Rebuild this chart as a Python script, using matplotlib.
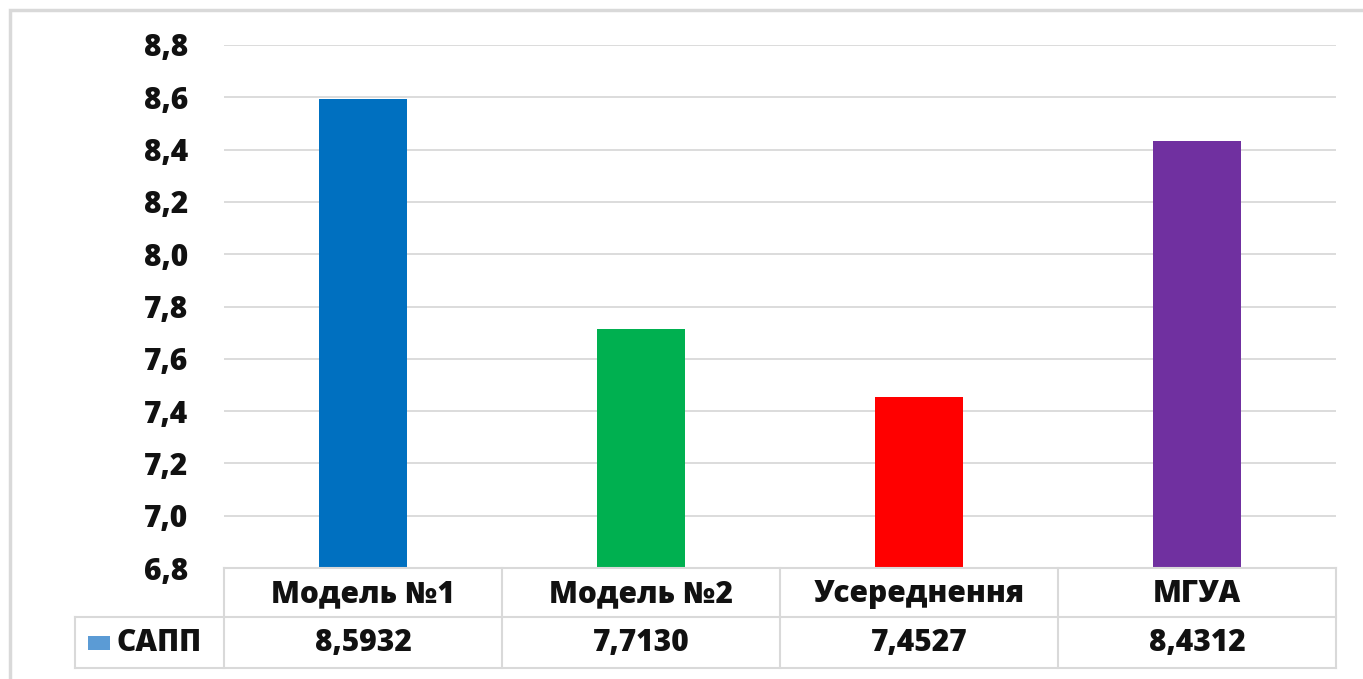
import matplotlib
matplotlib.use("Agg")
import matplotlib.pyplot as plt
from matplotlib.lines import Line2D
from matplotlib.patches import Rectangle
import numpy as np

categories = ["Модель №1", "Модель №2", "Усереднення", "МГУА"]
values = [8.5932, 7.7130, 7.4527, 8.4312]
series_name = "САПП"
bar_colors = ["#0070C0", "#00B050", "#FF0000", "#7030A0"]
yticks = [6.8, 7.0, 7.2, 7.4, 7.6, 7.8, 8.0, 8.2, 8.4, 8.6, 8.8]

W, H = 1363, 679
plt.rcParams['font.family'] = ['Open Sans', 'DejaVu Sans']
fig = plt.figure(figsize=(W / 100, H / 100), dpi=100)
FS = 21.5
FW = 800
TC = '#111111'

def fx(px):
    return px / W

def fy(py):
    return 1 - py / H

x0, x1 = 224, 1336
ytop, ybot = 45, 568
ax = fig.add_axes([fx(x0), fy(ybot), fx(x1) - fx(x0), fy(ytop) - fy(ybot)])
x = np.arange(len(categories))
ax.bar(x, np.array(values) - 6.8, bottom=6.8, width=0.315, color=bar_colors, zorder=3)
ax.set_xlim(-0.5, len(categories) - 0.5)
ax.set_ylim(6.8, 8.8)
ax.set_yticks(yticks)
ax.set_yticklabels([f"{v:.1f}".replace(".", ",") for v in yticks],
                   fontsize=FS, fontweight=FW, color=TC)
ax.tick_params(axis='y', length=0, pad=26)
ax.set_xticks([])
for s in ax.spines.values():
    s.set_visible(False)
ax.yaxis.grid(True, color='#D9D9D9', linewidth=1.3, zorder=0)
ax.set_axisbelow(True)

gc = '#D9D9D9'
lw = 1.5
# outer border
fig.add_artist(Rectangle((fx(10), fy(700)), fx(1400) - fx(10), fy(10) - fy(700),
                         fill=False, edgecolor='#D9D9D9', linewidth=2.5,
                         transform=fig.transFigure))

def hline(y, xa, xb):
    fig.add_artist(Line2D([fx(xa), fx(xb)], [fy(y), fy(y)], color=gc, linewidth=lw,
                          transform=fig.transFigure))

def vline(xp, ya, yb):
    fig.add_artist(Line2D([fx(xp), fx(xp)], [fy(ya), fy(yb)], color=gc, linewidth=lw,
                          transform=fig.transFigure))

hline(568, x0, x1)
hline(617, 75, x1)
hline(668, 75, x1)
vline(75, 617, 668)
ncat = len(categories)
colw = (x1 - x0) / ncat
for i in range(ncat + 1):
    vline(x0 + i * colw, 568, 668)

for i, (c, v) in enumerate(zip(categories, values)):
    cx = x0 + (i + 0.5) * colw
    fig.text(fx(cx), fy(594), c, ha='center', va='center', fontsize=FS,
             fontweight=FW, color=TC)
    fig.text(fx(cx), fy(643), f"{v:.4f}".replace(".", ","), ha='center', va='center',
             fontsize=FS, fontweight=FW, color=TC)

fig.add_artist(Rectangle((fx(88), fy(650)), fx(110) - fx(88), fy(636) - fy(650),
                         facecolor='#5B9BD5', edgecolor='none', transform=fig.transFigure))
fig.text(fx(117), fy(643), series_name, ha='left', va='center', fontsize=FS,
         fontweight=FW, color=TC)

fig.savefig("out.png", dpi=100)
